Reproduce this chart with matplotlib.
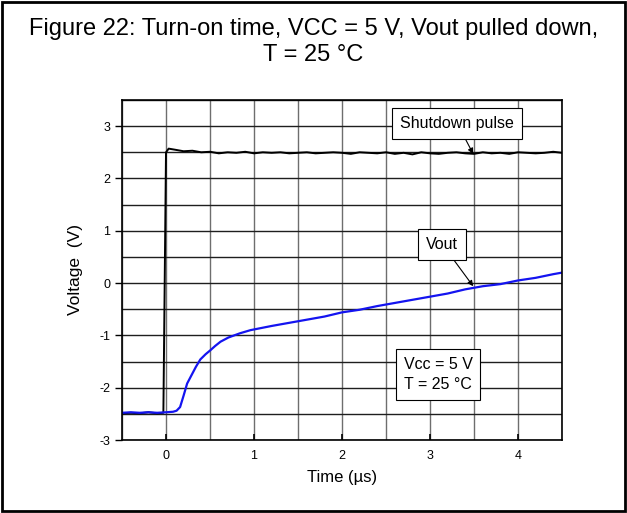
import numpy as np
import matplotlib.pyplot as plt
from matplotlib.patches import Rectangle

plt.rcParams['font.family'] = ['Liberation Sans', 'DejaVu Sans']
plt.rcParams['axes.unicode_minus'] = False

# Shutdown pulse (black), time in us, voltage in V
t_sd = [-0.5, -0.4, -0.3, -0.2, -0.1, -0.03, 0.0, 0.03, 0.1, 0.2, 0.3, 0.4, 0.5,
        0.6, 0.7, 0.8, 0.9, 1.0, 1.1, 1.2, 1.3, 1.4, 1.5, 1.6, 1.7, 1.8, 1.9, 2.0,
        2.1, 2.2, 2.3, 2.4, 2.5, 2.6, 2.7, 2.8, 2.9, 3.0, 3.1, 3.2, 3.3, 3.4, 3.5,
        3.6, 3.7, 3.8, 3.9, 4.0, 4.1, 4.2, 4.3, 4.4, 4.5]
v_sd = [-2.49, -2.48, -2.49, -2.47, -2.49, -2.48, 2.5, 2.57, 2.55, 2.52, 2.53, 2.5, 2.51,
        2.48, 2.5, 2.49, 2.51, 2.48, 2.5, 2.49, 2.5, 2.48, 2.49, 2.5, 2.48, 2.49, 2.5, 2.49,
        2.47, 2.5, 2.49, 2.48, 2.5, 2.47, 2.49, 2.46, 2.5, 2.48, 2.47, 2.49, 2.5, 2.48, 2.47,
        2.5, 2.48, 2.49, 2.47, 2.5, 2.49, 2.48, 2.49, 2.51, 2.49]

# Vout (blue)
t_out = [-0.5, -0.4, -0.3, -0.2, -0.1, 0.0, 0.08, 0.12, 0.16, 0.2, 0.24, 0.29, 0.34,
         0.39, 0.45, 0.5, 0.56, 0.62, 0.71, 0.84, 0.96, 1.05, 1.2, 1.4, 1.6, 1.8, 2.0,
         2.2, 2.4, 2.6, 2.8, 3.0, 3.2, 3.4, 3.6, 3.8, 4.0, 4.2, 4.4, 4.5]
v_out = [-2.48, -2.47, -2.48, -2.47, -2.48, -2.47, -2.46, -2.44, -2.37, -2.15, -1.92, -1.76, -1.6,
         -1.46, -1.36, -1.29, -1.2, -1.12, -1.04, -0.96, -0.9, -0.87, -0.82, -0.76, -0.7, -0.64, -0.56,
         -0.51, -0.44, -0.38, -0.32, -0.26, -0.2, -0.12, -0.06, -0.02, 0.05, 0.1, 0.17, 0.2]

fig = plt.figure(figsize=(6.27, 5.13), dpi=100)
fig.patches.append(Rectangle((0.003, 0.004), 0.994, 0.992, transform=fig.transFigure,
                             fill=False, edgecolor='black', linewidth=2))
fig.text(0.5, 0.918, "Figure 22: Turn-on time, VCC = 5 V, Vout pulled down,\nT = 25 °C",
         ha='center', va='center', fontsize=17, linespacing=1.2)

ax = fig.add_axes([0.1946, 0.1423, 0.7018, 0.6628])
ax.set_xlim(-0.5, 4.5)
ax.set_ylim(-3, 3.5)
ax.set_xticks([0, 1, 2, 3, 4])
ax.set_yticks([-3, -2, -1, 0, 1, 2, 3])
ax.set_xticks(np.arange(-0.5, 4.6, 0.5), minor=True)
ax.set_yticks(np.arange(-3, 3.6, 0.5), minor=True)
ax.grid(True, which='both', axis='x', color='#6e6e6e', linewidth=1)
ax.grid(True, which='both', axis='y', color='#1e1e1e', linewidth=1)
ax.set_axisbelow(True)
ax.tick_params(axis='x', which='major', direction='in', length=4, labelsize=9, width=1.2, pad=7)
ax.tick_params(axis='y', which='major', direction='out', length=5, labelsize=9, width=1)
ax.tick_params(which='minor', length=0)
for s in ax.spines.values():
    s.set_linewidth(1.2)

ax.plot(t_sd, v_sd, color='black', linewidth=1.4)
ax.plot(t_out, v_out, color='#1414f0', linewidth=1.6)

ax.set_xlabel("Time (µs)", fontsize=12, labelpad=6)
ax.set_ylabel("Voltage  (V)", fontsize=12.5, labelpad=12)

box = dict(boxstyle='square,pad=0.5', facecolor='white', edgecolor='black', linewidth=0.8)
ax.annotate("Shutdown pulse", xy=(3.49, 2.47), xytext=(3.31, 3.05), fontsize=11.5,
            ha='center', va='center', bbox=box,
            arrowprops=dict(arrowstyle='-|>', color='black', lw=0.8, mutation_scale=8,
                            shrinkA=0, shrinkB=0))
ax.annotate("Vout", xy=(3.49, -0.06), xytext=(3.14, 0.74), fontsize=11.5,
            ha='center', va='center', bbox=box,
            arrowprops=dict(arrowstyle='-|>', color='black', lw=0.8, mutation_scale=8,
                            shrinkA=0, shrinkB=0))
ax.text(3.09, -1.75, "Vcc = 5 V\nT = 25 °C", fontsize=11.5, ha='center', va='center',
        linespacing=1.45, bbox=dict(boxstyle='square,pad=0.5', facecolor='white',
                                    edgecolor='black', linewidth=0.8))

fig.savefig("out.png", dpi=100)
